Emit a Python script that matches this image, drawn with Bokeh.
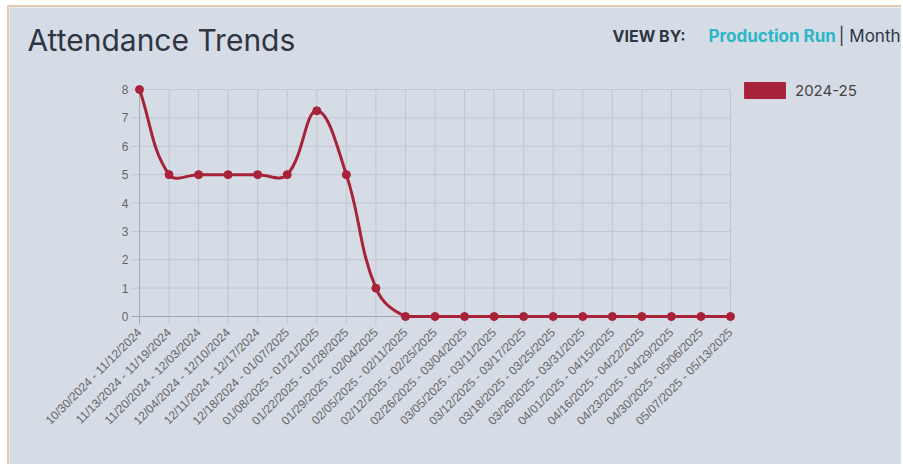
import math
import numpy as np
from bokeh.plotting import figure
from bokeh.models import Range1d, FixedTicker, Label, Legend, LegendItem
from bokeh.embed import file_html
from bokeh.resources import INLINE

# ---------------- data ----------------
periods = [
    "10/30/2024 - 11/12/2024",
    "11/13/2024 - 11/19/2024",
    "11/20/2024 - 12/03/2024",
    "12/04/2024 - 12/10/2024",
    "12/11/2024 - 12/17/2024",
    "12/18/2024 - 01/07/2025",
    "01/08/2025 - 01/21/2025",
    "01/22/2025 - 01/28/2025",
    "01/29/2025 - 02/04/2025",
    "02/05/2025 - 02/11/2025",
    "02/12/2025 - 02/25/2025",
    "02/26/2025 - 03/04/2025",
    "03/05/2025 - 03/11/2025",
    "03/12/2025 - 03/17/2025",
    "03/18/2025 - 03/25/2025",
    "03/26/2025 - 03/31/2025",
    "04/01/2025 - 04/15/2025",
    "04/16/2025 - 04/22/2025",
    "04/23/2025 - 04/29/2025",
    "04/30/2025 - 05/06/2025",
    "05/07/2025 - 05/13/2025",
]
attendance = [8, 5, 5, 5, 5, 5, 7.25, 5, 1, 0, 0, 0, 0, 0, 0, 0, 0, 0, 0, 0, 0]
series_name = "2024-25"
y_ticks = [0, 1, 2, 3, 4, 5, 6, 7, 8]

# ---------------- style ----------------
BG = "#d6dce5"
RED = "#a8223a"
GRID = "#c0c5ce"
AXIS = "#a3a8b0"
TICK_TXT = "#666666"
DARK = "#2f3542"
TEAL = "#2bb7c6"

# canvas and plot-area geometry (canvas pixels)
W, H = 894, 459
PLOT_L, PLOT_R, PLOT_T, PLOT_B = 130, 721, 82, 309
TICK_LEN = 8
n = len(periods)
ymax = max(y_ticks)
sx = (PLOT_R - PLOT_L) / (n - 1)
sy = (PLOT_B - PLOT_T) / ymax

p = figure(
    width=W, height=H, output_backend="svg", toolbar_location=None,
    x_range=Range1d(-PLOT_L / sx, (n - 1) + (W - PLOT_R) / sx),
    y_range=Range1d(-(H - PLOT_B) / sy, ymax + PLOT_T / sy),
    min_border=0, min_border_left=0, min_border_right=0,
    min_border_top=0, min_border_bottom=0,
    background_fill_color=BG, border_fill_color=BG,
    outline_line_color=None,
)
p.margin = (5, 0, 0, 7)
p.styles = {"border-top": "2px solid #e2cab2", "border-left": "2px solid #e2cab2"}
p.xgrid.visible = False
p.ygrid.visible = False

# grid lines (Chart.js style, extending past the axes as tick marks)
xs = list(range(n))
p.segment(x0=xs[1:], y0=[-TICK_LEN / sy] * (n - 1), x1=xs[1:], y1=[ymax] * (n - 1),
          line_color=GRID, line_width=1)
p.segment(x0=[-TICK_LEN / sx] * (len(y_ticks) - 1), y0=y_ticks[1:],
          x1=[n - 1] * (len(y_ticks) - 1), y1=y_ticks[1:], line_color=GRID, line_width=1)
# axis border lines
p.segment(x0=[0, -TICK_LEN / sx], y0=[-TICK_LEN / sy, 0], x1=[0, n - 1], y1=[ymax, 0],
          line_color=AXIS, line_width=1)

# ---------------- Chart.js-like spline (tension 0.4) ----------------
t = 0.4
X = np.arange(n, dtype=float) * sx
Y = np.array(attendance, dtype=float) * sy
prev_cp, next_cp = [], []
for i in range(n):
    p0 = (X[i - 1], Y[i - 1]) if i > 0 else (X[i], Y[i])
    p1 = (X[i], Y[i])
    p2 = (X[i + 1], Y[i + 1]) if i < n - 1 else (X[i], Y[i])
    d01 = math.hypot(p1[0] - p0[0], p1[1] - p0[1])
    d12 = math.hypot(p2[0] - p1[0], p2[1] - p1[1])
    tot = d01 + d12
    s01 = d01 / tot if tot else 0.0
    s12 = d12 / tot if tot else 0.0
    fa, fb = t * s01, t * s12
    pc = [p1[0] - fa * (p2[0] - p0[0]), p1[1] - fa * (p2[1] - p0[1])]
    nc = [p1[0] + fb * (p2[0] - p0[0]), p1[1] + fb * (p2[1] - p0[1])]
    for c in (pc, nc):
        c[0] = min(max(c[0], 0.0), X[-1])
        c[1] = min(max(c[1], 0.0), ymax * sy)
    prev_cp.append((pc[0] / sx, pc[1] / sy))
    next_cp.append((nc[0] / sx, nc[1] / sy))

p.bezier(
    x0=xs[:-1], y0=attendance[:-1], x1=xs[1:], y1=attendance[1:],
    cx0=[c[0] for c in next_cp[:-1]], cy0=[c[1] for c in next_cp[:-1]],
    cx1=[c[0] for c in prev_cp[1:]], cy1=[c[1] for c in prev_cp[1:]],
    line_color=RED, line_width=3,
)
p.scatter(xs, attendance, size=8, fill_color=RED, line_color=RED)

# ---------------- axes (drawn at the data origin) ----------------
p.xaxis.fixed_location = 0
p.yaxis.fixed_location = 0
p.xaxis.ticker = FixedTicker(ticks=xs)
p.xaxis.major_label_overrides = {i: lab for i, lab in enumerate(periods)}
p.xaxis.major_label_orientation = math.pi / 4
p.yaxis.ticker = FixedTicker(ticks=y_ticks)
for ax in (p.xaxis, p.yaxis):
    ax.axis_line_color = None
    ax.major_tick_line_color = None
    ax.minor_tick_line_color = None
    ax.major_tick_out = 0
    ax.major_tick_in = 0
    ax.major_label_text_font = "Liberation Sans"
    ax.major_label_text_font_size = "12px"
    ax.major_label_text_color = TICK_TXT
p.xaxis.major_label_standoff = 14
p.yaxis.major_label_standoff = 11

# ---------------- legend ----------------
nan = float("nan")
sw = p.quad(left=[nan], right=[nan], top=[nan], bottom=[nan], fill_color=RED, line_color=RED)
legend = Legend(
    items=[LegendItem(label=series_name, renderers=[sw])],
    location=(730, 366), orientation="vertical",
    glyph_width=51, glyph_height=20, label_standoff=5,
    padding=0, margin=0, spacing=0,
    background_fill_alpha=0, border_line_color=None,
    label_text_font="Inter", label_text_font_size="15px", label_text_color="#444444",
)
p.add_layout(legend, "center")

# ---------------- header texts ----------------
p.add_layout(Label(x=18, y=427, x_units="screen", y_units="screen", text="Attendance Trends",
                   text_font="Inter", text_font_size="30px", text_color=DARK,
                   text_baseline="middle"))
p.add_layout(Label(x=603, y=431, x_units="screen", y_units="screen", text="VIEW BY:",
                   text_font="Inter", text_font_size="16px", text_font_style="bold",
                   text_color=DARK, text_baseline="middle"))
p.add_layout(Label(x=699, y=431, x_units="screen", y_units="screen", text="Production Run",
                   text_font="Inter", text_font_size="17px", text_font_style="bold",
                   text_color=TEAL, text_baseline="middle"))
p.add_layout(Label(x=891, y=431, x_units="screen", y_units="screen", text="| Month",
                   text_font="Inter", text_font_size="17px",
                   text_color=DARK, text_baseline="middle", text_align="right"))

open("out.html", "w").write(file_html(p, INLINE))
